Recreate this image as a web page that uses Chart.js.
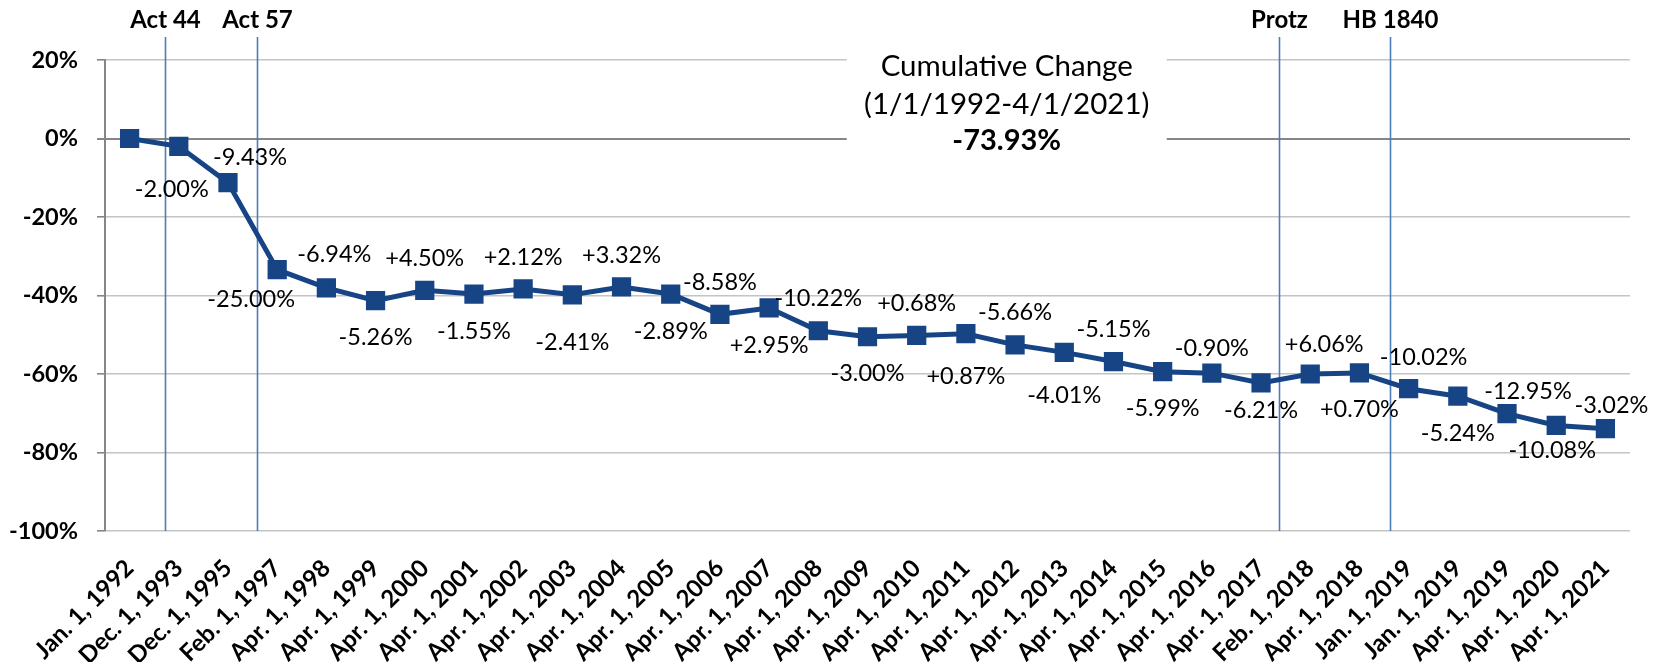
<!DOCTYPE html>
<html>
<head>
<meta charset="utf-8">
<script src="https://cdn.jsdelivr.net/npm/chart.js@4.4.1/dist/chart.umd.min.js"></script>
<style>
  html, body { margin: 0; padding: 0; background: #fff; }
  canvas { display: block; }
</style>
</head>
<body>
<canvas id="chart" width="1661" height="662"></canvas>
<script>
// Rate dates (x categories)
const DATES = [
  "Jan. 1, 1992", "Dec. 1, 1993", "Dec. 1, 1995", "Feb. 1, 1997", "Apr. 1, 1998",
  "Apr. 1, 1999", "Apr. 1, 2000", "Apr. 1, 2001", "Apr. 1, 2002", "Apr. 1, 2003",
  "Apr. 1, 2004", "Apr. 1, 2005", "Apr. 1, 2006", "Apr. 1, 2007", "Apr. 1, 2008",
  "Apr. 1, 2009", "Apr. 1, 2010", "Apr. 1, 2011", "Apr. 1, 2012", "Apr. 1, 2013",
  "Apr. 1, 2014", "Apr. 1, 2015", "Apr. 1, 2016", "Apr. 1, 2017", "Feb. 1, 2018",
  "Apr. 1, 2018", "Jan. 1, 2019", "Jan. 1, 2019", "Apr. 1, 2019", "Apr. 1, 2020",
  "Apr. 1, 2021",
];

// Cumulative change since Jan. 1, 1992 (%)
const CUMULATIVE = [
  0, -2.0, -11.24, -33.43, -38.05, -41.31, -38.67, -39.62, -38.34, -39.83,
  -37.83, -39.62, -44.8, -43.18, -48.98, -50.51, -50.18, -49.74, -52.59, -54.49,
  -56.83, -59.42, -59.78, -62.28, -60.0, -59.72, -63.75, -65.65, -70.1, -73.11,
  -73.93,
];

// Change at each date
const CHANGES = [
  "", "-2.00%", "-9.43%", "-25.00%", "-6.94%", "-5.26%", "+4.50%", "-1.55%", "+2.12%", "-2.41%",
  "+3.32%", "-2.89%", "-8.58%", "+2.95%", "-10.22%", "-3.00%", "+0.68%", "+0.87%", "-5.66%", "-4.01%",
  "-5.15%", "-5.99%", "-0.90%", "-6.21%", "+6.06%", "+0.70%", "-10.02%", "-5.24%", "-12.95%", "-10.08%",
  "-3.02%",
];

// Legislative / court events, placed between categories
const EVENT_NAMES = ["Act 44", "Act 57", "Protz", "HB 1840"];
const EVENT_AT = [0.72, 2.58, 23.36, 25.62];

const SUMMARY_LINES = ["Cumulative Change", "(1/1/1992-4/1/2021)", "-73.93%"];

const FONT = '"Lato", "Open Sans", sans-serif';
const LINE_BLUE = "#174485";
const EVENT_BLUE = "#4a7ebb";

// hand placed labels that don't follow the above/below pattern
const LABEL_NUDGE = {
  1: [-7, 43], 2: [22, -25], 3: [-26, 30], 4: [8, -33], 9: [0, 48], 17: [0, 43], 19: [0, 43],
  22: [0, -25], 23: [0, 27], 24: [14, -30], 26: [15, -31], 28: [21, -22],
  29: [-4, 25], 30: [6, -23],
};

const backdrop = {
  id: "backdrop",
  beforeDatasetsDraw(chart) {
    const { ctx, chartArea, scales } = chart;
    ctx.save();

    // summary box covers the gridlines
    const cx = scales.x.getPixelForValue(17.83);
    ctx.fillStyle = "#fff";
    ctx.fillRect(cx - 160, chartArea.top - 25, 320, scales.y.getPixelForValue(-7) - chartArea.top + 25);
    ctx.fillStyle = "#000";
    ctx.textAlign = "center";
    ctx.textBaseline = "middle";
    ctx.font = "29.5px " + FONT;
    ctx.fillText(SUMMARY_LINES[0], cx, chartArea.top + 6);
    ctx.fillText(SUMMARY_LINES[1], cx, chartArea.top + 44);
    ctx.font = "bold 29px " + FONT;
    ctx.fillText(SUMMARY_LINES[2], cx, chartArea.top + 81);

    // event markers
    ctx.strokeStyle = EVENT_BLUE;
    ctx.lineWidth = 1.6;
    ctx.font = "bold 24px " + FONT;
    EVENT_AT.forEach((at, i) => {
      const px = Math.round(scales.x.getPixelForValue(at)) + 0.5;
      ctx.beginPath();
      ctx.moveTo(px, chartArea.top - 23);
      ctx.lineTo(px, chartArea.bottom);
      ctx.stroke();
      ctx.fillText(EVENT_NAMES[i], px, 20);
    });
    ctx.restore();
  },
};

const changeLabels = {
  id: "changeLabels",
  afterDatasetsDraw(chart) {
    const { ctx } = chart;
    const meta = chart.getDatasetMeta(0);
    ctx.save();
    ctx.fillStyle = "#000";
    ctx.font = "23.5px " + FONT;
    ctx.textAlign = "center";
    ctx.textBaseline = "middle";
    meta.data.forEach((pt, i) => {
      if (!CHANGES[i]) return;
      const [dx, dy] = LABEL_NUDGE[i] || [0, i % 2 ? 37 : -32];
      ctx.fillText(CHANGES[i], pt.x + dx, pt.y + dy);
    });
    ctx.restore();
  },
};

new Chart(document.getElementById("chart"), {
  type: "line",
  data: {
    labels: DATES,
    datasets: [{
      data: CUMULATIVE,
      borderColor: LINE_BLUE,
      borderWidth: 5,
      tension: 0,
      pointStyle: "rect",
      pointRadius: 13.6,
      pointBackgroundColor: LINE_BLUE,
      pointBorderColor: LINE_BLUE,
      pointBorderWidth: 0,
    }],
  },
  options: {
    responsive: false,
    animation: false,
    devicePixelRatio: 1,
    layout: { padding: { top: 60, right: 31, left: 0, bottom: 0 } },
    plugins: {
      legend: { display: false },
      tooltip: { enabled: false },
    },
    scales: {
      x: {
        offset: true,
        grid: { display: false, drawTicks: false },
        border: { display: false },
        ticks: {
          autoSkip: false,
          maxRotation: 45,
          minRotation: 45,
          padding: 23,
          color: "#000",
          font: { family: FONT, weight: "bold", size: 24 },
        },
        afterFit(s) { s.height = 131; },
      },
      y: {
        min: -100,
        max: 20,
        ticks: {
          stepSize: 20,
          padding: 19,
          color: "#000",
          font: { family: FONT, weight: "bold", size: 23.5 },
          callback: (v) => v + "%",
        },
        grid: {
          color: (c) => (c.tick && c.tick.value === 0 ? "#868686" : "#c4c4c4"),
          lineWidth: (c) => (c.tick && c.tick.value === 0 ? 2 : 1.6),
          tickLength: 8,
          tickColor: "#868686",
        },
        border: { color: "#868686", width: 2 },
        afterFit(s) { s.width = 105; },
      },
    },
  },
  plugins: [backdrop, changeLabels],
});
</script>
</body>
</html>
